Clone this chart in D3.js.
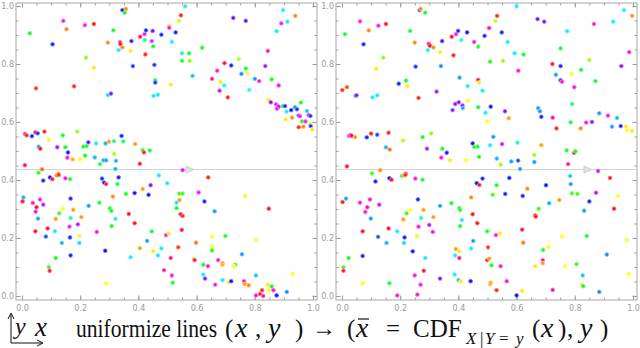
<!DOCTYPE html>
<html lang="en">
<head>
<meta charset="utf-8">
<title>uniformize lines</title>
<script src="https://cdn.jsdelivr.net/npm/d3@7/dist/d3.min.js"></script>
<style>
  body { margin: 0; background: #fff; }
  .tick text { fill: #9a9a9a; font-family: "DejaVu Sans", sans-serif; font-size: 8px; }
  .tick line { stroke: #9a9a9a; }
  .cap { font-family: "Liberation Serif", "Times New Roman", serif; fill: #111; }
  .it { font-style: italic; }
</style>
</head>
<body>
<script>
// [x, y, hue] (original points)
var leftPoints = [
  [0.027,0.906,125],[0.142,0.949,300],[0.153,0.920,30],[0.105,0.868,235],[0.216,0.934,300],[0.247,0.938,0],
  [0.220,0.822,90],[0.247,0.787,55],[0.048,0.716,10],[0.179,0.723,5],
  [0.345,0.986,235],[0.357,0.990,30],[0.353,0.977,125],[0.314,0.916,125],[0.295,0.874,30],[0.337,0.875,290],
  [0.338,0.869,0],[0.345,0.857,30],[0.332,0.848,185],[0.373,0.845,55],[0.376,0.879,250],[0.406,0.894,345],
  [0.421,0.903,300],[0.426,0.916,235],[0.446,0.879,300],[0.449,0.914,265],[0.422,0.883,150],[0.424,0.833,5],
  [0.451,0.861,125],[0.381,0.793,230],[0.455,0.797,230],[0.458,0.744,125],[0.458,0.736,230],[0.452,0.690,185],
  [0.467,0.694,185],[0.295,0.693,190],[0.306,0.698,270],
  [0.479,0.901,235],[0.506,0.932,55],[0.506,0.925,300],[0.515,0.876,185],[0.528,0.909,235],[0.539,0.949,75],
  [0.546,0.968,5],[0.561,0.999,185],[0.550,0.837,185],[0.574,0.837,125],[0.550,0.811,120],[0.576,0.811,90],
  [0.511,0.729,55],[0.586,0.759,195],[0.619,0.856,125],
  [0.726,0.959,260],[0.769,0.949,260],[0.897,0.986,185],[0.939,0.966,30],[0.912,0.946,185],[0.891,0.940,300],
  [0.875,0.913,185],[0.845,0.845,320],[0.696,0.803,350],[0.671,0.777,310],[0.719,0.795,235],[0.745,0.817,80],
  [0.769,0.785,125],[0.754,0.766,210],[0.774,0.768,60],[0.653,0.749,330],[0.682,0.738,55],[0.695,0.726,180],
  [0.679,0.708,285],[0.707,0.685,5],[0.800,0.749,205],[0.815,0.741,305],[0.781,0.711,180],[0.836,0.793,275],
  [0.858,0.747,125],[0.882,0.726,315],
  [0.848,0.676,55],[0.855,0.668,270],[0.873,0.661,300],[0.882,0.653,275],[0.876,0.646,300],[0.896,0.655,125],
  [0.904,0.655,235],[0.909,0.636,185],[0.925,0.641,240],[0.938,0.651,205],[0.945,0.644,230],[0.958,0.667,125],
  [0.928,0.615,30],[0.906,0.609,55],[0.951,0.622,230],[0.955,0.620,310],[0.962,0.602,125],[0.974,0.602,300],
  [0.979,0.638,195],[0.985,0.624,310],[0.991,0.621,230],[0.951,0.582,5],[0.967,0.584,30],[0.990,0.593,55],
  [0.992,0.586,230],[0.997,0.574,55],
  [0.010,0.559,310],[0.016,0.554,5],[0.034,0.551,235],[0.046,0.564,350],[0.054,0.561,230],[0.077,0.567,5],
  [0.092,0.538,65],[0.057,0.515,200],[0.063,0.508,0],[0.140,0.554,125],[0.121,0.513,280],[0.149,0.513,125],
  [0.158,0.495,240],[0.156,0.477,305],[0.174,0.471,40],[0.190,0.567,85],[0.211,0.515,125],[0.222,0.517,125],
  [0.228,0.530,260],[0.217,0.484,120],[0.200,0.471,60],[0.255,0.526,185],[0.250,0.478,200],[0.268,0.455,125],
  [0.280,0.468,200],[0.289,0.468,205],[0.287,0.526,200],[0.299,0.532,35],[0.317,0.490,85],[0.323,0.466,200],
  [0.316,0.534,150],[0.342,0.552,235],[0.348,0.533,145],[0.321,0.438,200],[0.389,0.524,35],[0.415,0.503,130],
  [0.419,0.495,5],[0.439,0.502,125],[0.405,0.456,350],[0.010,0.451,345],[0.069,0.437,20],[0.057,0.425,110],
  [0.125,0.422,30],[0.552,0.434,290],
  [0.005,0.340,200],[0.002,0.326,350],[0.037,0.321,310],[0.050,0.306,350],[0.062,0.333,305],[0.047,0.291,310],
  [0.073,0.315,285],[0.055,0.267,205],[0.046,0.223,355],[0.088,0.233,355],[0.082,0.205,225],[0.073,0.398,235],
  [0.096,0.409,240],[0.104,0.403,0],[0.119,0.416,30],[0.126,0.418,5],[0.149,0.406,310],[0.165,0.403,125],
  [0.167,0.336,235],[0.140,0.301,60],[0.176,0.297,35],[0.128,0.285,110],[0.116,0.266,35],[0.167,0.269,160],
  [0.192,0.247,285],[0.204,0.272,35],[0.163,0.239,305],[0.113,0.223,185],[0.165,0.202,235],[0.197,0.207,65],
  [0.137,0.183,200],[0.197,0.183,190],[0.167,0.140,235],[0.116,0.131,120],[0.092,0.100,110],[0.095,0.087,340],
  [0.229,0.311,205],[0.266,0.322,125],[0.257,0.221,295],[0.275,0.405,235],[0.282,0.391,240],[0.289,0.386,350],
  [0.302,0.302,120],[0.307,0.294,120],[0.312,0.343,30],[0.321,0.266,185],[0.308,0.241,125],[0.286,0.156,240],
  [0.289,0.043,60],[0.332,0.409,235],[0.328,0.386,140],[0.357,0.352,125],[0.387,0.355,240],[0.367,0.283,355],
  [0.387,0.251,355],[0.373,0.134,185],[0.415,0.369,35],[0.435,0.349,240],[0.442,0.382,270],[0.470,0.416,185],
  [0.499,0.389,185],[0.405,0.165,35],[0.430,0.190,205],[0.446,0.223,130],[0.451,0.155,55],[0.467,0.140,185],
  [0.479,0.164,185],[0.495,0.210,305],[0.504,0.216,55],[0.511,0.131,330],[0.488,0.089,320],[0.515,0.071,300],
  [0.518,0.046,130],[0.531,0.303,120],[0.531,0.322,185],[0.541,0.331,35],[0.540,0.353,110],[0.552,0.353,110],
  [0.545,0.282,355],[0.552,0.276,5],[0.549,0.228,355],[0.537,0.168,10],[0.607,0.357,300],[0.627,0.326,235],
  [0.640,0.409,5],[0.662,0.292,205],[0.598,0.184,25],[0.591,0.129,55],[0.593,0.124,345],[0.623,0.108,125],
  [0.639,0.103,310],[0.653,0.205,60],[0.653,0.170,60],[0.653,0.157,125],[0.623,0.074,185],[0.629,0.060,270],
  [0.664,0.039,300],[0.674,0.124,315],[0.689,0.113,30],[0.689,0.108,40],[0.689,0.055,185],[0.699,0.207,125],
  [0.710,0.047,55],[0.719,0.051,240],[0.733,0.108,110],[0.728,0.103,60],[0.756,0.144,205],[0.767,0.345,65],
  [0.763,0.051,310],[0.765,0.041,35],[0.779,0.037,30],[0.804,0.193,60],[0.804,0.071,195],[0.848,0.301,0],
  [0.804,0.002,310],[0.818,0.007,350],[0.825,0.020,5],[0.829,0.000,315],[0.845,0.039,55],[0.848,0.020,60],
  [0.858,0.033,120],[0.864,0.020,310],[0.875,0.002,240],[0.910,0.014,210],[0.930,0.077,60]
];

// [x, y, hue] (x replaced by conditional CDF)
var rightPoints = [
  [0.010,0.903,125],[0.062,0.947,300],[0.092,0.916,30],[0.074,0.868,235],[0.125,0.932,300],[0.151,0.938,0],
  [0.142,0.822,90],[0.118,0.784,55],[0.001,0.710,5],[0.017,0.720,15],[0.046,0.690,195],[0.050,0.692,270],
  [0.105,0.685,185],[0.121,0.692,185],[0.195,0.732,235],[0.220,0.743,125],[0.225,0.723,55],[0.234,0.914,125],
  [0.250,0.874,30],[0.253,0.791,230],[0.263,0.683,5],[0.267,0.986,235],[0.270,0.990,30],[0.286,0.977,125],
  [0.298,0.870,300],[0.302,0.863,0],[0.295,0.848,185],[0.314,0.857,30],[0.344,0.879,250],[0.337,0.841,55],
  [0.340,0.793,210],[0.325,0.705,280],[0.377,0.894,345],[0.392,0.903,300],[0.399,0.914,235],[0.410,0.883,170],
  [0.383,0.830,5],[0.430,0.909,240],[0.454,0.876,310],[0.468,0.860,125],[0.404,0.753,205],[0.432,0.724,185],
  [0.468,0.745,345],[0.471,0.736,55],[0.483,0.708,185],[0.432,0.674,60],[0.380,0.641,275],[0.389,0.662,275],
  [0.401,0.668,270],[0.414,0.657,275],[0.415,0.648,200],[0.468,0.651,125],[0.493,0.632,185],[0.511,0.653,240],
  [0.499,0.602,60],[0.490,0.897,235],[0.503,0.925,45],[0.506,0.924,310],[0.527,0.949,75],[0.533,0.966,5],
  [0.549,0.909,235],[0.569,0.876,185],[0.509,0.808,125],[0.553,0.811,90],[0.593,0.837,185],[0.624,0.833,125],
  [0.600,0.999,185],[0.606,0.777,310],[0.560,0.637,270],[0.573,0.613,35],[0.672,0.955,265],[0.695,0.946,270],
  [0.774,0.913,185],[0.751,0.854,125],[0.723,0.800,350],[0.751,0.793,235],[0.735,0.763,205],[0.751,0.744,225],
  [0.756,0.739,310],[0.789,0.766,60],[0.822,0.780,125],[0.850,0.814,85],[0.871,0.741,125],[0.798,0.720,310],
  [0.791,0.662,145],[0.674,0.648,205],[0.680,0.637,205],[0.685,0.618,235],[0.724,0.615,330],[0.737,0.578,5],
  [0.786,0.599,125],[0.820,0.578,30],[0.839,0.598,310],[0.859,0.600,270],[0.884,0.630,205],[0.914,0.622,310],
  [0.945,0.614,200],[0.928,0.584,205],[0.958,0.586,235],[0.976,0.584,55],[0.979,0.572,60],[0.997,0.569,55],
  [0.866,0.938,310],[0.932,0.946,185],[0.969,0.986,185],[0.997,0.966,30],[0.987,0.841,310],[0.960,0.793,275],
  [0.024,0.552,305],[0.029,0.555,310],[0.033,0.553,355],[0.045,0.548,30],[0.085,0.547,235],[0.100,0.560,355],
  [0.121,0.556,225],[0.160,0.563,5],[0.151,0.513,200],[0.164,0.505,25],[0.210,0.536,80],[0.277,0.548,125],
  [0.307,0.561,90],[0.292,0.508,280],[0.345,0.508,125],[0.341,0.477,305],[0.360,0.494,245],[0.371,0.468,55],
  [0.426,0.468,60],[0.449,0.526,240],[0.454,0.514,125],[0.466,0.515,125],[0.471,0.480,120],[0.520,0.549,205],
  [0.509,0.520,185],[0.550,0.524,285],[0.532,0.474,200],[0.545,0.453,85],[0.582,0.464,205],[0.605,0.467,225],
  [0.603,0.529,155],[0.612,0.438,205],[0.661,0.486,85],[0.661,0.462,205],[0.685,0.520,35],[0.772,0.502,130],
  [0.798,0.494,355],[0.802,0.499,120],[0.777,0.455,330],[0.017,0.447,350],[0.103,0.423,110],[0.131,0.434,30],
  [0.219,0.422,10],[0.880,0.431,285],
  [0.002,0.324,355],[0.014,0.336,205],[0.071,0.223,355],[0.005,0.099,110],[0.005,0.087,340],[0.023,0.131,120],
  [0.071,0.044,60],[0.071,0.138,235],[0.062,0.322,305],[0.087,0.306,330],[0.080,0.290,310],[0.096,0.333,310],
  [0.128,0.315,285],[0.099,0.267,205],[0.124,0.204,225],[0.115,0.395,235],[0.163,0.406,240],[0.170,0.401,355],
  [0.206,0.414,125],[0.213,0.416,35],[0.218,0.418,5],[0.252,0.405,310],[0.277,0.401,125],[0.261,0.333,235],
  [0.234,0.297,60],[0.280,0.297,35],[0.222,0.285,110],[0.211,0.264,35],[0.272,0.269,160],[0.300,0.245,285],
  [0.314,0.272,35],[0.263,0.239,305],[0.160,0.233,355],[0.190,0.223,185],[0.215,0.202,235],[0.257,0.207,65],
  [0.153,0.183,200],[0.213,0.183,190],[0.243,0.154,240],[0.286,0.131,185],[0.163,0.044,125],[0.250,0.071,300],
  [0.281,0.087,350],[0.270,0.039,300],[0.259,0.005,315],[0.190,0.002,310],[0.337,0.311,205],[0.312,0.221,295],
  [0.376,0.320,125],[0.403,0.303,120],[0.406,0.297,120],[0.406,0.241,125],[0.412,0.262,185],[0.337,0.060,270],
  [0.463,0.389,240],[0.472,0.383,350],[0.483,0.405,235],[0.444,0.340,30],[0.449,0.282,355],[0.465,0.251,355],
  [0.451,0.190,205],[0.444,0.164,185],[0.389,0.140,185],[0.391,0.162,35],[0.403,0.154,55],[0.403,0.131,330],
  [0.387,0.074,185],[0.401,0.055,200],[0.408,0.051,55],[0.442,0.051,240],[0.499,0.223,130],[0.529,0.210,305],
  [0.543,0.216,55],[0.502,0.168,10],[0.499,0.124,345],[0.506,0.129,35],[0.514,0.106,125],[0.545,0.103,310],
  [0.509,0.041,35],[0.511,0.046,40],[0.531,0.020,5],[0.566,0.051,310],[0.518,0.349,110],[0.531,0.382,125],
  [0.561,0.352,235],[0.575,0.407,240],[0.621,0.345,235],[0.637,0.370,30],[0.619,0.229,355],[0.623,0.184,25],
  [0.600,0.002,240],[0.619,0.018,55],[0.664,0.103,55],[0.690,0.124,315],[0.690,0.113,35],[0.691,0.159,125],
  [0.710,0.170,60],[0.664,0.278,355],[0.666,0.274,0],[0.676,0.301,110],[0.701,0.382,240],[0.712,0.320,200],
  [0.724,0.021,330],[0.747,0.331,35],[0.756,0.205,60],[0.767,0.103,60],[0.784,0.414,195],[0.786,0.386,205],
  [0.790,0.354,110],[0.809,0.352,110],[0.806,0.110,110],[0.825,0.039,55],[0.829,0.034,120],[0.832,0.294,205],
  [0.850,0.326,235],[0.873,0.356,285],[0.841,0.207,125],[0.827,0.071,195],[0.884,0.014,210],[0.910,0.143,210],
  [0.921,0.407,355],[0.935,0.301,0],[0.948,0.345,60],[0.978,0.193,60],[0.985,0.076,60]
];

var majorTicks = [0, 0.2, 0.4, 0.6, 0.8, 1.0];
var minorTicks = d3.range(0, 1.0001, 0.05);
var guideY = 0.436;          // the highlighted horizontal line
var guideArrowX = [0.584, 0.852];

var w = 640, h = 348;
var frameTop = 3, frameBottom = 300;

var panels = [
  { pts: leftPoints,  fx0: 16,  fx1: 317, rx: [22, 313],  arrow: guideArrowX[0] },
  { pts: rightPoints, fx0: 336, fx1: 637, rx: [342, 633], arrow: guideArrowX[1] }
];

var svg = d3.select("body").append("svg")
    .attr("width", w)
    .attr("height", h);

var yScale = d3.scaleLinear().domain([0, 1]).range([296, 6]);
var fmt = d3.format(".1f");

panels.forEach(function(p) {
  var xScale = d3.scaleLinear().domain([0, 1]).range(p.rx);
  var g = svg.append("g");

  // axes: ticks point inward, labels only bottom/left
  function addAxis(axisFn, pos, size, vals, labels, scale) {
    var ax = axisFn(scale).tickValues(vals).tickSize(-size).tickSizeOuter(0).tickPadding(3);
    ax.tickFormat(labels ? fmt : "");
    var a = g.append("g").attr("transform", pos).call(ax);
    a.select(".domain").remove();
    return a;
  }
  addAxis(d3.axisBottom, "translate(0," + frameBottom + ")", 2.5, minorTicks, false, xScale);
  addAxis(d3.axisBottom, "translate(0," + frameBottom + ")", 4.5, majorTicks, true, xScale)
    .selectAll("text").attr("dy", "0.95em");
  addAxis(d3.axisTop, "translate(0," + frameTop + ")", 2.5, minorTicks, false, xScale);
  addAxis(d3.axisTop, "translate(0," + frameTop + ")", 4.5, majorTicks, false, xScale);
  addAxis(d3.axisLeft, "translate(" + p.fx0 + ",0)", 2.5, minorTicks, false, yScale);
  addAxis(d3.axisLeft, "translate(" + p.fx0 + ",0)", 4.5, majorTicks, true, yScale)
    .selectAll("text").attr("x", -2);
  addAxis(d3.axisRight, "translate(" + p.fx1 + ",0)", 2.5, minorTicks, false, yScale);
  addAxis(d3.axisRight, "translate(" + p.fx1 + ",0)", 4.5, majorTicks, false, yScale);

  g.append("rect")
    .attr("x", p.fx0).attr("y", frameTop)
    .attr("width", p.fx1 - p.fx0).attr("height", frameBottom - frameTop)
    .attr("fill", "none").attr("stroke", "#a8a8a8").attr("stroke-width", 1);

  // guide line with arrow head
  var gy = yScale(guideY);
  g.append("line")
    .attr("x1", p.fx0).attr("x2", p.fx1)
    .attr("y1", gy).attr("y2", gy)
    .attr("stroke", "#d2d2d2").attr("stroke-width", 1);
  var ax0 = xScale(p.arrow);
  g.append("path")
    .attr("d", "M" + (ax0 - 6) + "," + (gy - 3.5) + "L" + (ax0 + 2) + "," + gy + "L" + (ax0 - 6) + "," + (gy + 3.5) + "Z")
    .attr("fill", "#e0e0e0").attr("stroke", "#c8c8c8").attr("stroke-width", 0.8);

  g.selectAll("circle.pt")
    .data(p.pts)
    .enter()
    .append("circle")
    .attr("class", "pt")
    .attr("cx", function(d) { return xScale(d[0]); })
    .attr("cy", function(d) { return yScale(d[1]); })
    .attr("r", 1.9)
    .attr("fill", function(d) { return d3.hsl(d[2], 1, 0.52); })
    .attr("stroke", function(d) { return d3.hsl(d[2], 1, 0.75); })
    .attr("stroke-width", 0.9);
});

// caption
var cap = svg.append("g");
cap.append("path")
  .attr("d", "M11,343V315M8,319L11,313L14,319M11,343H42M37,340L43,343L37,346")
  .attr("fill", "none").attr("stroke", "#111").attr("stroke-width", 1);

// one glyph (or short piece) placed at its own left edge
function seg(x, y, txt, size, italic) {
  return cap.append("text").attr("class", italic ? "cap it" : "cap")
    .attr("x", x).attr("y", y).attr("font-size", size).text(txt);
}
seg(15, 334, "y", 24, true);
seg(35, 336, "x", 27, true);

// condensed serif label
cap.append("text").attr("class", "cap")
  .attr("transform", "translate(76,337) scale(0.865,1)")
  .attr("font-size", 25)
  .text("uniformize lines");

seg(225, 337, "(", 25);
seg(235, 337, "x", 28, true);
seg(255, 337, ",", 25);
seg(268, 337, "y", 28, true);
seg(295, 337, ")", 25);
seg(312, 336, "\u2192", 24);
seg(347, 337, "(", 25);
var xb = seg(356, 337, "x", 28, true);
seg(386, 337, "=", 25);
seg(413, 337, "CDF", 25);
seg(466, 344, "X", 17, true);
seg(480, 344, "|", 17);
seg(485, 344, "Y", 17, true);
seg(499, 344, "=", 17);
seg(516, 344, "y", 17, true);
seg(532, 337, "(", 25);
seg(541, 337, "x", 28, true);
seg(558, 337, ")", 25);
seg(567, 337, ",", 25);
seg(580, 337, "y", 28, true);
seg(600, 337, ")", 25);

// bar over the x in x-bar
var bb = xb.node().getBBox();
cap.append("line")
  .attr("x1", bb.x + 3).attr("x2", bb.x + bb.width)
  .attr("y1", 319).attr("y2", 319)
  .attr("stroke", "#111").attr("stroke-width", 1.2);
</script>
</body>
</html>
